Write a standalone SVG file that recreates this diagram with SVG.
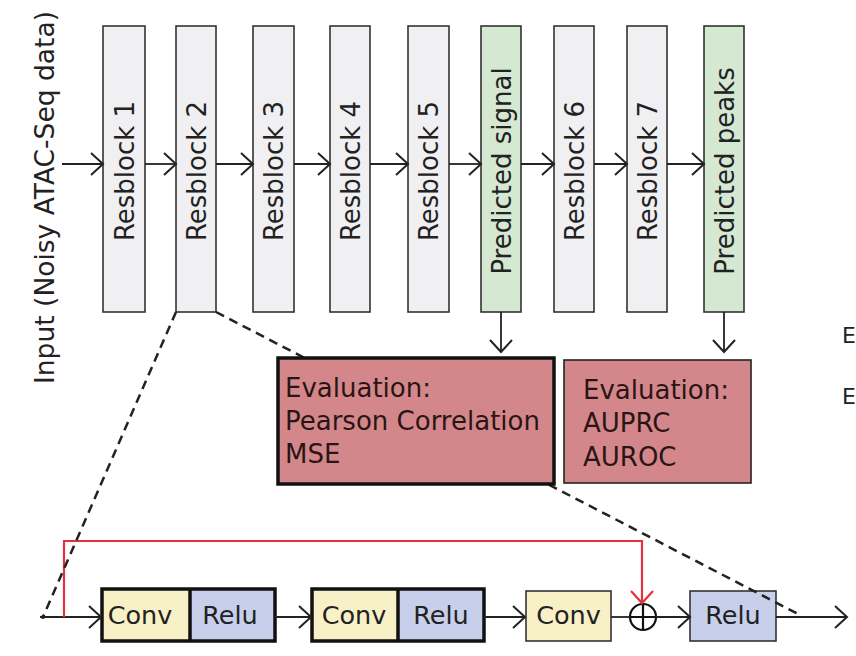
<svg xmlns="http://www.w3.org/2000/svg" width="856" height="656" viewBox="0 0 856 656">
<style>
text{font-family:"DejaVu Sans","Liberation Sans",sans-serif;fill:#222}
.blk{fill:#f0f0f2;stroke:#333;stroke-width:1.6}
.grn{fill:#d4e8d2;stroke:#333;stroke-width:1.6}
.vt{font-size:26px;text-anchor:middle}
.ev{font-size:26px;fill:#2a1515}
.conv{fill:#f8f0c6}
.relu{fill:#c7cfea}
.bt{font-size:25.5px;text-anchor:middle}
.ln{fill:none;stroke:#222;stroke-width:1.8}
.red{fill:none;stroke:#e0343c;stroke-width:2.2}
.dash{fill:none;stroke:#222;stroke-width:2.5;stroke-dasharray:9,6}
marker{overflow:visible}
</style>
<defs>
<marker id="arr" refX="0" refY="0" markerWidth="1" markerHeight="1" markerUnits="userSpaceOnUse" orient="auto" style="overflow:visible">
<path d="M-12,-11 L0,0 L-12,11" fill="none" stroke="#222" stroke-width="2"/>
</marker>
<marker id="arrR" refX="0" refY="0" markerWidth="1" markerHeight="1" markerUnits="userSpaceOnUse" orient="auto" style="overflow:visible">
<path d="M-12,-11 L0,0 L-12,11" fill="none" stroke="#e0343c" stroke-width="2.2"/>
</marker>
</defs>
<rect width="856" height="656" fill="#fff"/>

<g id="input-label"><text transform="translate(54,384) rotate(-90)" style="font-size:26.5px">Input (Noisy ATAC-Seq data)</text></g>

<g id="resblock1"><rect class="blk" x="103" y="26" width="42" height="286"/><text class="vt" transform="translate(133.5,171) rotate(-90)">Resblock 1</text></g>
<g id="resblock2"><rect class="blk" x="176" y="26" width="40" height="286"/><text class="vt" transform="translate(205.5,171) rotate(-90)">Resblock 2</text></g>
<g id="resblock3"><rect class="blk" x="253" y="26" width="41" height="286"/><text class="vt" transform="translate(283,171) rotate(-90)">Resblock 3</text></g>
<g id="resblock4"><rect class="blk" x="330" y="26" width="40" height="286"/><text class="vt" transform="translate(359.5,171) rotate(-90)">Resblock 4</text></g>
<g id="resblock5"><rect class="blk" x="408" y="26" width="41" height="286"/><text class="vt" transform="translate(438,171) rotate(-90)">Resblock 5</text></g>
<g id="predicted-signal"><rect class="grn" x="481" y="26" width="40" height="286"/><text class="vt" transform="translate(510.5,171) rotate(-90)">Predicted signal</text></g>
<g id="resblock6"><rect class="blk" x="554" y="26" width="40" height="286"/><text class="vt" transform="translate(583.5,171) rotate(-90)">Resblock 6</text></g>
<g id="resblock7"><rect class="blk" x="627" y="26" width="40" height="286"/><text class="vt" transform="translate(656.5,171) rotate(-90)">Resblock 7</text></g>
<g id="predicted-peaks"><rect class="grn" x="704" y="26" width="40" height="286"/><text class="vt" transform="translate(733.5,171) rotate(-90)">Predicted peaks</text></g>

<g id="block-a">
<rect class="conv" x="102" y="589" width="88" height="52"/><rect class="relu" x="190" y="589" width="85" height="52"/>
<rect x="102" y="589" width="173" height="52" fill="none" stroke="#111" stroke-width="3.5"/>
<line x1="190" y1="589" x2="190" y2="641" stroke="#111" stroke-width="3.5"/>
<text class="bt" x="140" y="624">Conv</text><text class="bt" x="230" y="624">Relu</text>
</g>
<g id="block-b">
<rect class="conv" x="312" y="589" width="86" height="52"/><rect class="relu" x="398" y="589" width="86" height="52"/>
<rect x="312" y="589" width="172" height="52" fill="none" stroke="#111" stroke-width="3.5"/>
<line x1="398" y1="589" x2="398" y2="641" stroke="#111" stroke-width="3.5"/>
<text class="bt" x="354" y="624">Conv</text><text class="bt" x="441" y="624">Relu</text>
</g>
<g id="conv3"><rect class="conv" x="526" y="591" width="85" height="50" stroke="#333" stroke-width="1.6"/><text class="bt" x="568.5" y="624">Conv</text></g>
<g id="relu-out"><rect class="relu" x="690" y="591" width="86" height="50" stroke="#333" stroke-width="1.6"/><text class="bt" x="733" y="624">Relu</text></g>
<g id="sum"><circle cx="643" cy="617" r="13" fill="#fff" stroke="#111" stroke-width="2.2"/><path d="M630,617 H656 M643,604 V630" stroke="#111" stroke-width="2.2"/></g>

<g id="connectors">
<line class="ln" x1="62" y1="164" x2="103" y2="164" marker-end="url(#arr)"/>
<line class="ln" x1="145" y1="164" x2="176" y2="164" marker-end="url(#arr)"/>
<line class="ln" x1="216" y1="164" x2="253" y2="164" marker-end="url(#arr)"/>
<line class="ln" x1="294" y1="164" x2="330" y2="164" marker-end="url(#arr)"/>
<line class="ln" x1="370" y1="164" x2="408" y2="164" marker-end="url(#arr)"/>
<line class="ln" x1="449" y1="164" x2="481" y2="164" marker-end="url(#arr)"/>
<line class="ln" x1="521" y1="164" x2="554" y2="164" marker-end="url(#arr)"/>
<line class="ln" x1="594" y1="164" x2="627" y2="164" marker-end="url(#arr)"/>
<line class="ln" x1="667" y1="164" x2="704" y2="164" marker-end="url(#arr)"/>
<line class="ln" x1="501" y1="312" x2="501" y2="352" marker-end="url(#arr)"/>
<line class="ln" x1="724" y1="312" x2="724" y2="352" marker-end="url(#arr)"/>
<line class="ln" x1="40" y1="617" x2="101" y2="617" marker-end="url(#arr)"/>
<circle cx="43" cy="617" r="2" fill="#222"/>
<line class="ln" x1="275" y1="617" x2="311" y2="617" marker-end="url(#arr)"/>
<line class="ln" x1="484" y1="617" x2="525" y2="617" marker-end="url(#arr)"/>
<line class="ln" x1="611" y1="617" x2="630" y2="617"/>
<line class="ln" x1="656" y1="617" x2="690" y2="617" marker-end="url(#arr)"/>
<line class="ln" x1="776" y1="617" x2="847" y2="617" marker-end="url(#arr)"/>
<path class="red" d="M64,617 V541 H642 V603" marker-end="url(#arrR)"/>
<line class="dash" x1="176" y1="312" x2="43" y2="617"/>
<line class="dash" x1="216" y1="312" x2="800" y2="615"/>
</g>

<g id="eval-signal"><rect x="278" y="358" width="276" height="126" fill="#d4878b" stroke="#111" stroke-width="3.5"/>
<text class="ev" x="285" y="397">Evaluation:</text><text class="ev" x="285" y="430">Pearson Correlation</text><text class="ev" x="285" y="463">MSE</text></g>
<g id="eval-peaks"><rect x="564" y="360" width="187" height="123" fill="#d4878b" stroke="#222" stroke-width="1.6"/>
<text class="ev" x="583" y="399">Evaluation:</text><text class="ev" x="583" y="432">AUPRC</text><text class="ev" x="583" y="466">AUROC</text></g>

<g id="edge-fragments"><text x="842" y="343" style="font-size:22px">E</text><text x="842" y="404" style="font-size:22px">E</text></g>
</svg>
